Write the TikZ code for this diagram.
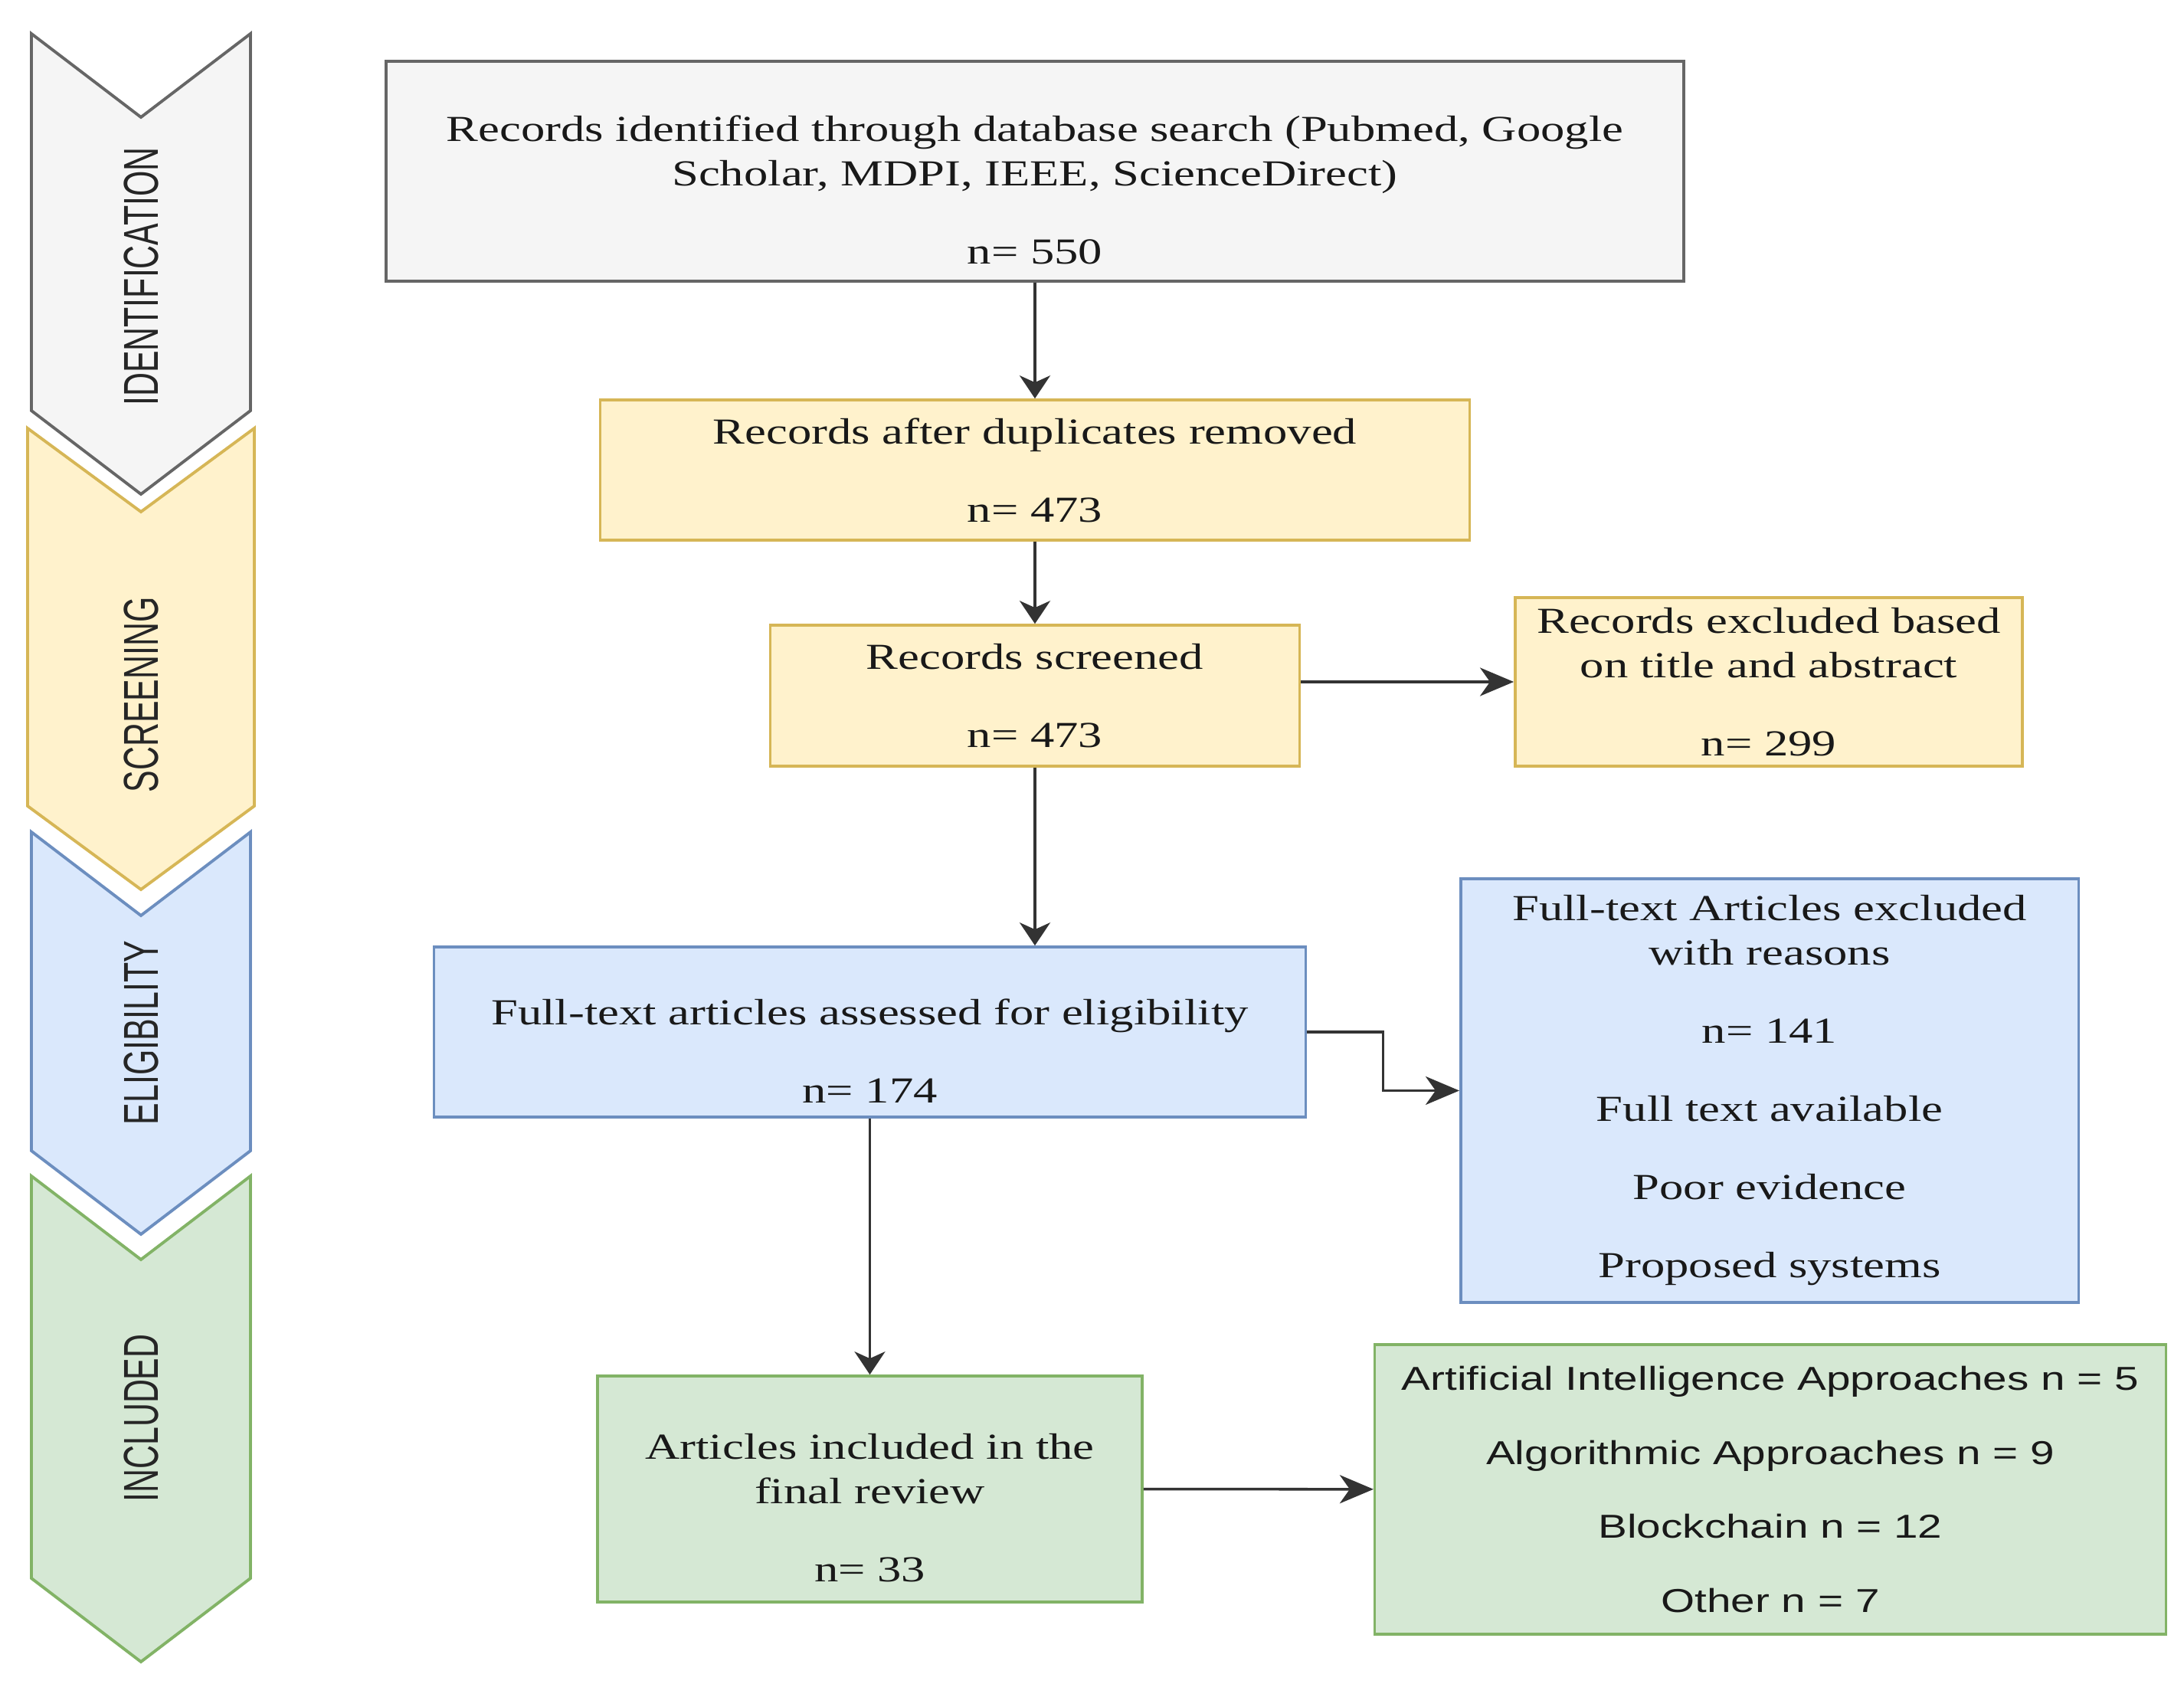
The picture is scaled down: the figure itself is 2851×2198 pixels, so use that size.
\documentclass[tikz,border=0pt]{standalone}
\usepackage{fontspec}
\usepackage{xcolor}
\usepackage{tikz}
\usetikzlibrary{arrows.meta,positioning,calc}
\setmainfont{Liberation Serif}
\newfontfamily\boxfont[FakeStretch=1.31]{Liberation Serif}
\newfontfamily\listfont[FakeStretch=1.31]{Liberation Sans}
\newfontfamily\phasefont[FakeStretch=0.67]{Liberation Sans}
\definecolor{grayfill}{HTML}{F5F5F5}
\definecolor{graydraw}{HTML}{666666}
\definecolor{yellowfill}{HTML}{FFF2CC}
\definecolor{yellowdraw}{HTML}{D6B656}
\definecolor{bluefill}{HTML}{DAE8FC}
\definecolor{bluedraw}{HTML}{6C8EBF}
\definecolor{greenfill}{HTML}{D5E8D4}
\definecolor{greendraw}{HTML}{82B366}
\newcommand{\padtop}{\rule{0pt}{23.5pt}}

\begin{document}
\begin{tikzpicture}[x=0.01cm,y=-0.01cm,
    box/.style={draw,line width=1pt,inner sep=0pt,align=center,text=black!90,
        font=\fontsize{13.6}{16.5}\selectfont\boxfont},
    phase/.style={rotate=90,inner sep=0pt,text=black!85,
        font=\fontsize{18.2}{20}\selectfont\phasefont},
    flow/.style={draw=black!80,line width=1pt,
        -{Stealth[length=0.30cm,width=0.40cm,inset=0.09cm]}},
    flowh/.style={draw=black!80,line width=1pt,
        -{Stealth[length=0.44cm,width=0.37cm,inset=0.13cm]}}]
\useasboundingbox (0,0) rectangle (2851,2198);

% Phase chevrons on the left
\foreach \l/\r/\t/\b/\fc/\dc/\ty/\txt in {41/327/44/536/grayfill/graydraw/361/IDENTIFICATION,
    36/332/559/1052/yellowfill/yellowdraw/907/SCREENING,
    41/327/1086/1502/bluefill/bluedraw/1348/ELIGIBILITY,
    41/327/1535/2060/greenfill/greendraw/1851/INCLUDED}
{
    \filldraw[fill=\fc,draw=\dc,line width=1.1pt,line join=miter]
        (\l,\t) -- (184,\t+109) -- (\r,\t) -- (\r,\b) -- (184,\b+109) -- (\l,\b) -- cycle;
    \node[phase] (\txt) at (184,\ty) {\txt};
}

% Identification
\node[box,fill=grayfill,draw=graydraw,minimum width=16.93cm,minimum height=2.87cm]
    (identified) at (1351,223.5)
    {\padtop Records identified through database search (Pubmed, Google\\
     Scholar, MDPI, IEEE, ScienceDirect)\\[12.5pt] n= 550};

% Screening
\node[box,fill=yellowfill,draw=yellowdraw,minimum width=11.34cm,minimum height=1.83cm]
    (duplicates) at (1351,613.5) {Records after duplicates removed\\[12.5pt] n= 473};
\node[box,fill=yellowfill,draw=yellowdraw,minimum width=6.91cm,minimum height=1.84cm]
    (screened) at (1351,908) {Records screened\\[12.5pt] n= 473};
\node[box,fill=yellowfill,draw=yellowdraw,minimum width=6.62cm,minimum height=2.20cm]
    (excluded) at (2309,890) {Records excluded based\\ on title and abstract\\[12.5pt] n= 299};

% Eligibility
\node[box,fill=bluefill,draw=bluedraw,minimum width=11.37cm,minimum height=2.22cm]
    (assessed) at (1135.5,1347) {\padtop Full-text articles assessed for eligibility\\[12.5pt] n= 174};
\node[box,fill=bluefill,draw=bluedraw,minimum width=8.06cm,minimum height=5.53cm]
    (reasons) at (2310,1423.5)
    {Full-text Articles excluded\\ with reasons\\[12.5pt] n= 141\\[12.5pt]
     Full text available\\[12.5pt] Poor evidence\\[12.5pt] Proposed systems};

% Included
\node[box,fill=greenfill,draw=greendraw,minimum width=7.11cm,minimum height=2.95cm]
    (included) at (1135.5,1943.5) {\padtop Articles included in the\\ final review\\[12.5pt] n= 33};
\node[box,fill=greenfill,draw=greendraw,minimum width=10.32cm,minimum height=3.78cm,
    font=\fontsize{12.3}{14.8}\selectfont\listfont]
    (categories) at (2311,1944)
    {Artificial Intelligence Approaches n = 5\\[12.7pt] Algorithmic Approaches n = 9\\[12.7pt]
     Blockchain n = 12\\[12.7pt] Other n = 7};

% Connectors
\draw[flow] (identified) -- (duplicates);
\draw[flow] (duplicates) -- (screened);
\draw[flowh] (screened.east |- excluded.west) -- (excluded.west);
\draw[flow] (screened.south) -- (screened.south |- assessed.north);
\coordinate (bend) at ($(assessed.east)!0.5!(reasons.west)$);
\draw[flowh] (assessed.east) -| (bend) |- (reasons.west);
\draw[flow] (assessed) -- (included);
\draw[flowh] (included) -- (categories);
\end{tikzpicture}
\end{document}
